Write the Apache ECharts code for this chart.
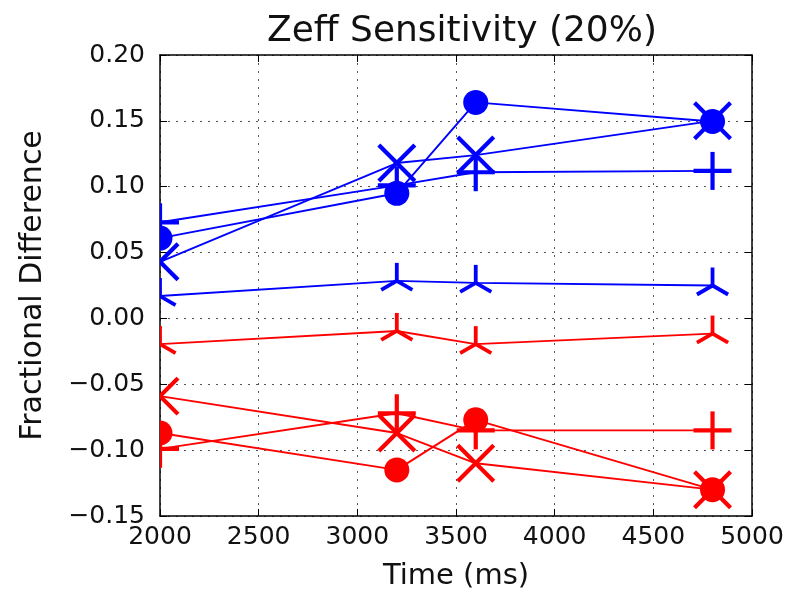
<!DOCTYPE html>
<html><head><meta charset="utf-8">
<script src="https://cdn.jsdelivr.net/npm/echarts@6/dist/echarts.min.js"></script>
<style>html,body{margin:0;padding:0;background:#fff}#c{width:792px;height:598px}</style>
</head><body><div id="c"></div>
<script>
// ---- data ----
const times = [2000, 3200, 3600, 4800];
const blueCircle = [0.061, 0.095, 0.164, 0.1495];
const blueX      = [0.043, 0.118, 0.124, 0.150];
const bluePlus   = [0.073, 0.101, 0.111, 0.112];
const blueTri    = [0.017, 0.0285, 0.027, 0.025];
const redCircle  = [-0.087, -0.115, -0.077, -0.130];
const redX       = [-0.059, -0.087, -0.110, -0.130];
const redPlus    = [-0.099, -0.072, -0.085, -0.085];
const redTri     = [-0.0195, -0.0095, -0.0195, -0.0115];
const titleText = 'Zeff Sensitivity (20%)';
const xName = 'Time (ms)';
const yName = 'Fractional Difference';

const BLUE = '#0000ff', RED = '#ff0000';
const groups = [
  {vals: blueCircle, color: BLUE, marker: 'circle'},
  {vals: blueX,      color: BLUE, marker: 'x'},
  {vals: bluePlus,   color: BLUE, marker: 'plus'},
  {vals: blueTri,    color: BLUE, marker: 'tri'},
  {vals: redCircle,  color: RED,  marker: 'circle'},
  {vals: redX,       color: RED,  marker: 'x'},
  {vals: redPlus,    color: RED,  marker: 'plus'},
  {vals: redTri,     color: RED,  marker: 'tri'}
];

function makeRender(marker, color) {
  return function (params, api) {
    const p = api.coord([api.value(0), api.value(1)]);
    const x = p[0], y = p[1];
    const ls = {stroke: color, lineWidth: 4.2, fill: null, lineCap: 'butt'};
    if (marker === 'circle') {
      return {type: 'circle', shape: {cx: x, cy: y, r: 12.5}, style: {fill: color}};
    }
    if (marker === 'x') {
      const h = 18;
      return {type: 'group', children: [
        {type: 'line', shape: {x1: x - h, y1: y - h, x2: x + h, y2: y + h}, style: ls},
        {type: 'line', shape: {x1: x - h, y1: y + h, x2: x + h, y2: y - h}, style: ls}
      ]};
    }
    if (marker === 'plus') {
      const h = 19;
      return {type: 'group', children: [
        {type: 'line', shape: {x1: x - h, y1: y, x2: x + h, y2: y}, style: ls},
        {type: 'line', shape: {x1: x, y1: y - h, x2: x, y2: y + h}, style: ls}
      ]};
    }
    const r = 18;
    const ts = {stroke: color, lineWidth: 3.8, fill: null, lineCap: 'butt'};
    return {type: 'group', children: [
      {type: 'line', shape: {x1: x, y1: y, x2: x, y2: y - r}, style: ts},
      {type: 'line', shape: {x1: x, y1: y, x2: x - r * 0.866, y2: y + r * 0.5}, style: ts},
      {type: 'line', shape: {x1: x, y1: y, x2: x + r * 0.866, y2: y + r * 0.5}, style: ts}
    ]};
  };
}

const series = [];
groups.forEach(function (g, i) {
  const data = times.map(function (t, k) { return [t, g.vals[k]]; });
  series.push({
    type: 'line', data: data, symbol: 'none', clip: true, z: 2 + i * 0.01,
    lineStyle: {color: g.color, width: 1.9}, animation: false, silent: true
  });
  series.push({
    type: 'custom', data: data, clip: true, z: 2 + i * 0.01 + 0.005,
    encode: {x: 0, y: 1}, renderItem: makeRender(g.marker, g.color),
    animation: false, silent: true
  });
});

const FONT = 'DejaVu Sans';
const axisLine = {show: true, onZero: false, lineStyle: {color: '#000', width: 1.5}};
const tick = {show: true, inside: true, length: 7, lineStyle: {color: '#000', width: 1}};
const grid = {show: true, lineStyle: {color: '#555', width: 1, type: [2, 6]}};

function yFmt(v) {
  if (Math.abs(v) < 1e-9) return '0.00';
  return (v < 0 ? '\u2212' : '') + Math.abs(v).toFixed(2);
}
function xFmt(v) { return String(Math.round(v)); }

const option = {
  backgroundColor: '#fff',
  animation: false,
  title: {
    text: titleText, left: 457, top: 9, textAlign: 'center',
    textStyle: {fontFamily: FONT, fontSize: 36, fontWeight: 'normal', color: '#111'}
  },
  grid: {left: 160, right: 40, top: 55, bottom: 82, containLabel: false},
  xAxis: [
    {type: 'value', min: 2000, max: 5000, interval: 500, position: 'bottom',
     axisLine: axisLine, axisTick: tick, splitLine: grid,
     axisLabel: {fontFamily: FONT, fontSize: 25, color: '#111', margin: 9, formatter: xFmt},
     name: xName, nameLocation: 'middle', nameGap: 46,
     nameTextStyle: {fontFamily: FONT, fontSize: 29, color: '#111'}},
    {type: 'value', min: 2000, max: 5000, interval: 500, position: 'top',
     axisLine: axisLine, axisTick: tick, splitLine: {show: false}, axisLabel: {show: false}}
  ],
  yAxis: [
    {type: 'value', min: -0.15, max: 0.20, interval: 0.05, position: 'left',
     axisLine: axisLine, axisTick: tick, splitLine: grid,
     axisLabel: {fontFamily: FONT, fontSize: 25, color: '#111', margin: 15, formatter: yFmt},
     name: yName, nameLocation: 'middle', nameGap: 112, nameRotate: 90,
     nameTextStyle: {fontFamily: FONT, fontSize: 30, color: '#111'}},
    {type: 'value', min: -0.15, max: 0.20, interval: 0.05, position: 'right',
     axisLine: axisLine, axisTick: tick, splitLine: {show: false}, axisLabel: {show: false}}
  ],
  series: series
};

const chart = echarts.init(document.getElementById('c'), null, {renderer: 'canvas'});
chart.setOption(option);
</script>
</body></html>
